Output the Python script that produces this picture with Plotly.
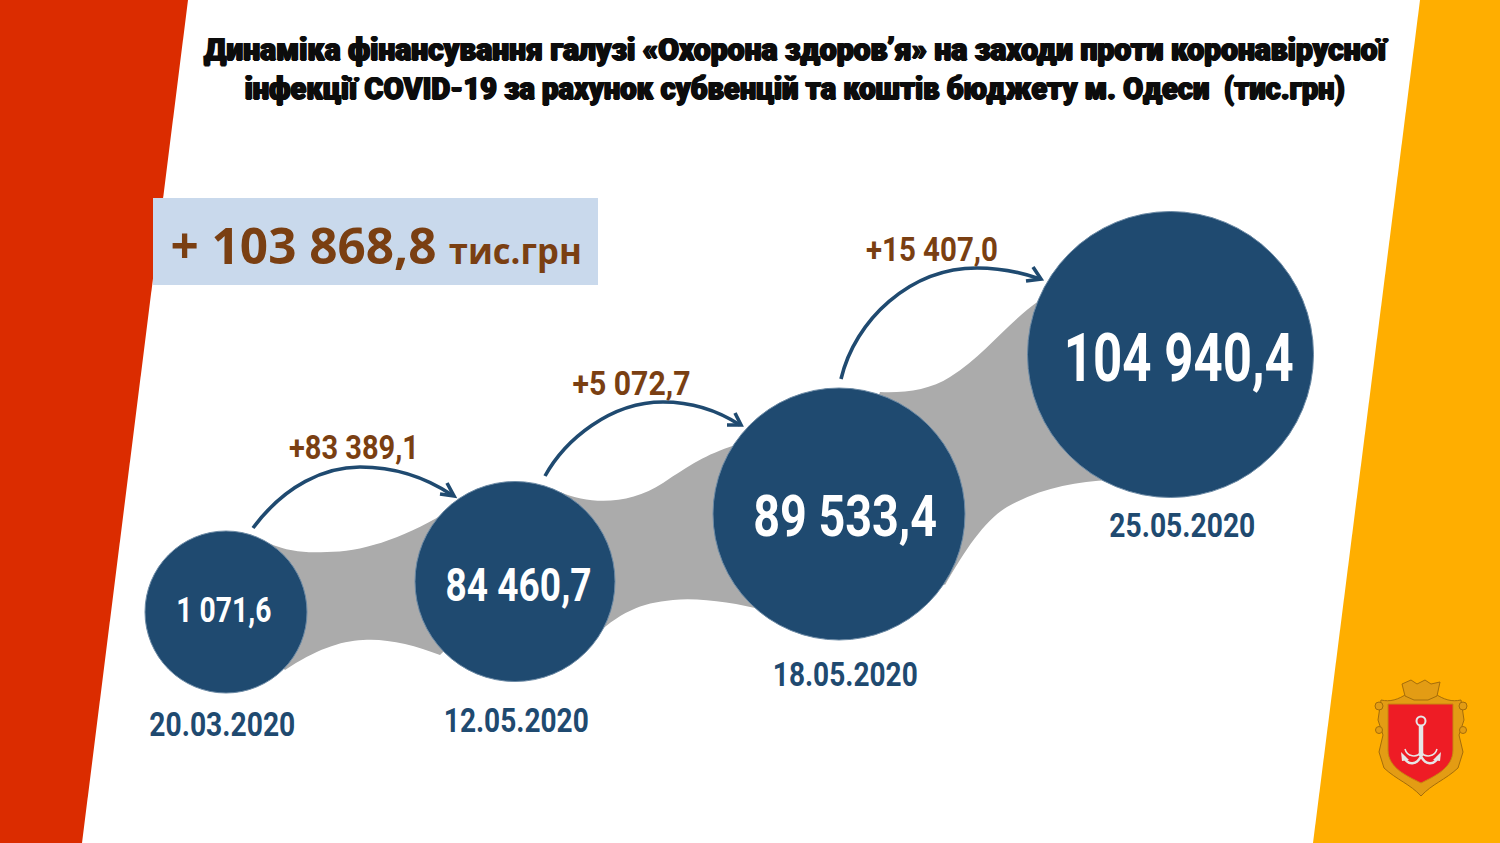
import json
import plotly.graph_objects as go

W, H = 1500, 843
NAVY = "#1f4a70"
BROWN = "#7a3f12"
GREY = "#ababab"
RED = "#db2c00"
ORANGE = "#ffae00"
GOLD = "#e39c14"
GOLD_DARK = "#a56d0a"
STEEL = "#e6e6e6"

title_lines = [
    "Динаміка фінансування галузі «Охорона здоров’я» на заходи проти коронавірусної",
    "інфекції COVID-19 за рахунок субвенцій та коштів бюджету м. Одеси  (тис.грн)",
]
total_label = "+ 103 868,8"
total_unit = "тис.грн"

# дані
dates = ["20.03.2020", "12.05.2020", "18.05.2020", "25.05.2020"]
totals = ["1 071,6", "84 460,7", "89 533,4", "104 940,4"]
deltas = ["+83 389,1", "+5 072,7", "+15 407,0"]

# розміщення на полотні (пікселі)
cx = [226, 515, 839, 1170.5]
cy = [612, 581.5, 514, 354.5]
radius = [81, 100, 126, 143]
total_pos = [(224, 610), (518, 585), (845, 516), (1179, 358)]
total_sizes = [35, 46, 58, 66]
total_widths = [95, 146, 184, 230]
date_pos = [(222, 724), (516, 720), (845, 674), (1182, 525)]
date_widths = [146, 145, 145, 146]
delta_pos = [(354, 447), (631, 383), (932, 249)]
delta_widths = [130, 118, 132]

ribbons = [
    "M 268 543 C 290 552, 305 553, 327 552 C 360 552, 400 540, 445 513 L 515 582 L 440 655 "
    "C 415 645, 385 638, 363 640 C 340 641, 315 650, 285 670 L 226 612 Z",
    "M 560 492 C 590 505, 630 505, 663 483 C 690 465, 705 455, 735 445 L 839 514 L 775 613 "
    "C 745 605, 705 597, 673 600 C 640 603, 620 612, 590 640 L 515 582 Z",
    "M 880 392 C 905 393, 930 390, 950 377 C 985 355, 1005 325, 1040 300 L 1170 355 L 1110 480 "
    "C 1075 482, 1040 488, 1007 507 C 985 520, 965 550, 945 585 L 839 514 Z",
]
arrows = [
    "M 253 528 C 285 485, 325 467, 360 467 C 395 467, 425 477, 452 495",
    "M 545 476 C 565 440, 610 402, 663 402 C 695 402, 720 412, 740 425",
    "M 841 379 C 855 320, 910 268, 977 268 C 1000 268, 1020 272, 1040 279",
]
heads = [
    "M 447 483 L 454 496 L 440 494",
    "M 735 413 L 741 425 L 727 425",
    "M 1033 267 L 1041 279 L 1026 281",
]


def panel(path, color, layer="below", line=None, width=0):
    return dict(type="path", path=path, xref="x", yref="y", fillcolor=color, layer=layer,
                line=dict(color=line or color, width=width))


def stroke(path, color, width):
    return dict(type="path", path=path, xref="x", yref="y", layer="above",
                line=dict(color=color, width=width))


def ring(x, y, r, color, width, fill="rgba(0,0,0,0)"):
    return dict(type="circle", x0=x - r, x1=x + r, y0=y - r, y1=y + r, xref="x", yref="y",
                fillcolor=fill, layer="above", line=dict(color=color, width=width))


shapes = [
    panel("M 0 0 L 188 0 L 82 843 L 0 843 Z", RED),
    panel("M 1420 0 L 1500 0 L 1500 843 L 1313 843 Z", ORANGE),
    dict(type="rect", x0=153, x1=598, y0=198, y1=285, xref="x", yref="y",
         fillcolor="#c9d9ec", line_width=0, layer="below"),
]
shapes += [panel(p, GREY) for p in ribbons]
shapes += [stroke(p, NAVY, 3.6) for p in arrows + heads]

# герб
shapes += [
    panel("M 1381 700 C 1390 702, 1398 700, 1408 693 L 1434 693 C 1444 700, 1452 702, 1461 700 "
          "L 1464 720 L 1459 735 L 1463 752 L 1458 768 C 1445 780, 1432 784, 1421 796 "
          "C 1410 784, 1397 780, 1384 768 L 1379 752 L 1383 735 L 1378 720 Z",
          GOLD, layer="above", line=GOLD_DARK, width=1),
    panel("M 1402 684 L 1411 680 L 1417 684 L 1425 680 L 1431 684 L 1440 682 L 1437 696 "
          "L 1428 700 L 1414 700 L 1405 696 Z", GOLD, layer="above", line=GOLD_DARK, width=1),
    ring(1379, 706, 4, GOLD_DARK, 1, GOLD),
    ring(1463, 706, 4, GOLD_DARK, 1, GOLD),
    ring(1379, 730, 3.5, GOLD_DARK, 1, GOLD),
    ring(1463, 730, 3.5, GOLD_DARK, 1, GOLD),
    panel("M 1388 704 L 1453 704 L 1453 750 C 1453 768, 1435 776, 1421 783 "
          "C 1407 776, 1388 768, 1388 750 Z", "#ee1c25", layer="above", line="#c9850f", width=1),
    ring(1421, 721, 4.5, STEEL, 2),
    stroke("M 1421 726 L 1421 756", STEEL, 4.5),
    stroke("M 1405 749 C 1407 757, 1417 758, 1421 752 C 1425 758, 1435 757, 1437 749", STEEL, 1.5),
    stroke("M 1404 757 C 1408 766, 1417 765, 1421 756 C 1425 765, 1434 766, 1438 757", STEEL, 2.5),
    panel("M 1401 752 L 1402 761 L 1409 760 Z", STEEL, layer="above"),
    panel("M 1441 752 L 1440 761 L 1433 760 Z", STEEL, layer="above"),
]

fig = go.Figure()
fig.add_trace(go.Scatter(
    x=cx, y=cy, mode="markers", hoverinfo="skip", showlegend=False,
    marker=dict(size=[2 * r for r in radius], color=NAVY, opacity=1,
                line=dict(color="#6c8aa5", width=1)),
))

notes = []
targets = []


def add_note(x, y, text, size, color, width, family="Roboto", shadow="none", weight=700):
    notes.append(dict(x=x, y=y, text=text, xref="x", yref="y", showarrow=False,
                      xanchor="center", yanchor="middle",
                      font=dict(family=family, size=size, color=color, weight=weight, shadow=shadow)))
    targets.append(width)


thick = "1px 0 0 #0c0c0c, -1px 0 0 #0c0c0c, 0 0.6px 0 #0c0c0c"
add_note(796, 49, title_lines[0], 32, "#0c0c0c", 1182, shadow=thick, weight=900)
add_note(795, 88, title_lines[1], 32, "#0c0c0c", 1100, shadow=thick, weight=900)
add_note(303, 245, total_label, 50, BROWN, 266, family="Open Sans")
add_note(515, 250, total_unit, 35, BROWN, 133, family="Open Sans")
for (x, y), text, size, width in zip(total_pos, totals, total_sizes, total_widths):
    add_note(x, y, text, size, "#ffffff", width)
for (x, y), text, width in zip(date_pos, dates, date_widths):
    add_note(x, y, text, 33, NAVY, width)
for (x, y), text, width in zip(delta_pos, deltas, delta_widths):
    add_note(x, y, text, 33, BROWN, width)

fig.update_layout(
    width=W, height=H, margin=dict(l=0, r=0, t=0, b=0),
    paper_bgcolor="#ffffff", plot_bgcolor="#ffffff",
    xaxis=dict(range=[0, W], visible=False, fixedrange=True),
    yaxis=dict(range=[H, 0], visible=False, fixedrange=True),
    shapes=shapes, annotations=notes, showlegend=False,
)

# стискаємо написи до ширини оригіналу, вузького шрифту немає
squeeze = """
document.body.style.margin = '0';
var widths = %s;
widths.forEach(function (w, i) {
    var el = document.querySelector('.annotation[data-index="' + i + '"] text');
    if (el) {
        el.setAttribute('textLength', w);
        el.setAttribute('lengthAdjust', 'spacingAndGlyphs');
    }
});
""" % json.dumps(targets)
fig.write_html("out.html", post_script=squeeze, config=dict(displayModeBar=False))
